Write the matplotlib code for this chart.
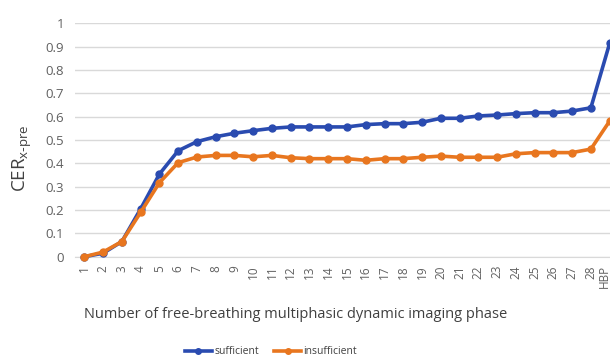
import matplotlib
matplotlib.use("Agg")
import matplotlib.pyplot as plt
from matplotlib.lines import Line2D
from matplotlib.transforms import ScaledTranslation

plt.rcParams['font.family'] = ['Open Sans', 'DejaVu Sans']

phases = [str(i) for i in range(1, 29)] + ["HBP"]
sufficient = [0.0, 0.015, 0.065, 0.205, 0.354, 0.454, 0.493, 0.514, 0.529, 0.54,
              0.55, 0.556, 0.556, 0.556, 0.556, 0.566, 0.57, 0.57, 0.576, 0.593,
              0.593, 0.603, 0.607, 0.613, 0.617, 0.617, 0.624, 0.638, 0.914]
insufficient = [0.0, 0.02, 0.065, 0.19, 0.317, 0.403, 0.427, 0.434, 0.434, 0.428,
                0.434, 0.424, 0.42, 0.42, 0.42, 0.413, 0.42, 0.42, 0.426, 0.431,
                0.426, 0.426, 0.426, 0.441, 0.446, 0.446, 0.446, 0.461, 0.581]
yticks = [0, 0.1, 0.2, 0.3, 0.4, 0.5, 0.6, 0.7, 0.8, 0.9, 1]
ytick_labels = ["0", "0.1", "0.2", "0.3", "0.4", "0.5", "0.6", "0.7", "0.8", "0.9", "1"]

blue = "#2A4BB0"
orange = "#E8761F"
tickc = "#606060"

W, H = 610, 359
fig = plt.figure(figsize=(W / 100, H / 100), dpi=100)
left, right = 75, 619
bottom, top = 359 - 256.7, 359 - 23.3
ax = fig.add_axes([left / W, bottom / H, (right - left) / W, (top - bottom) / H])

x = list(range(len(phases)))
ax.plot(x, sufficient, color=blue, lw=2.6, marker='o', ms=5, zorder=3, clip_on=False)
ax.plot(x, insufficient, color=orange, lw=2.6, marker='o', ms=5, zorder=3, clip_on=False)

ax.set_xlim(-0.5, len(phases) - 0.5)
ax.set_ylim(0, 1)
ax.set_yticks(yticks)
ax.set_yticklabels(ytick_labels)
ax.set_xticks(x)
ax.set_xticklabels(phases, rotation=90)
ax.grid(axis='y', color='#D9D9D9', lw=1)
ax.set_axisbelow(True)
for s in ['top', 'right', 'left']:
    ax.spines[s].set_visible(False)
ax.spines['bottom'].set_color('#D9D9D9')
ax.tick_params(axis='both', length=0, colors=tickc, labelsize=9.5)
ax.tick_params(axis='y', pad=8)
ax.tick_params(axis='x', pad=6, labelsize=8.5)

# nudge last (cut) label so it stays inside the canvas
last = ax.get_xticklabels()[-1]
last.set_transform(last.get_transform() + ScaledTranslation(-5 / 100, 0, fig.dpi_scale_trans))

fig.text(22 / W, 1 - 158 / H, r'CER$\mathregular{_{x\text{-}pre}}$', rotation=90,
         ha='center', va='center', fontsize=13.5, color='#404040')

fig.text(296 / W, 1 - 315 / H, 'Number of free-breathing multiphasic dynamic imaging phase',
         ha='center', va='center', fontsize=10.5, color='#404040')

handles = [Line2D([], [], color=blue, lw=2.6, marker='o', ms=4),
           Line2D([], [], color=orange, lw=2.6, marker='o', ms=4)]
fig.legend(handles, ['sufficient', 'insufficient'], loc='center',
           bbox_to_anchor=(271 / W, 1 - 352 / H), ncol=2, frameon=False,
           fontsize=7.5, handlelength=2.6, columnspacing=1.5, handletextpad=0.2,
           labelcolor='#404040')

fig.savefig('out.png', dpi=100)
